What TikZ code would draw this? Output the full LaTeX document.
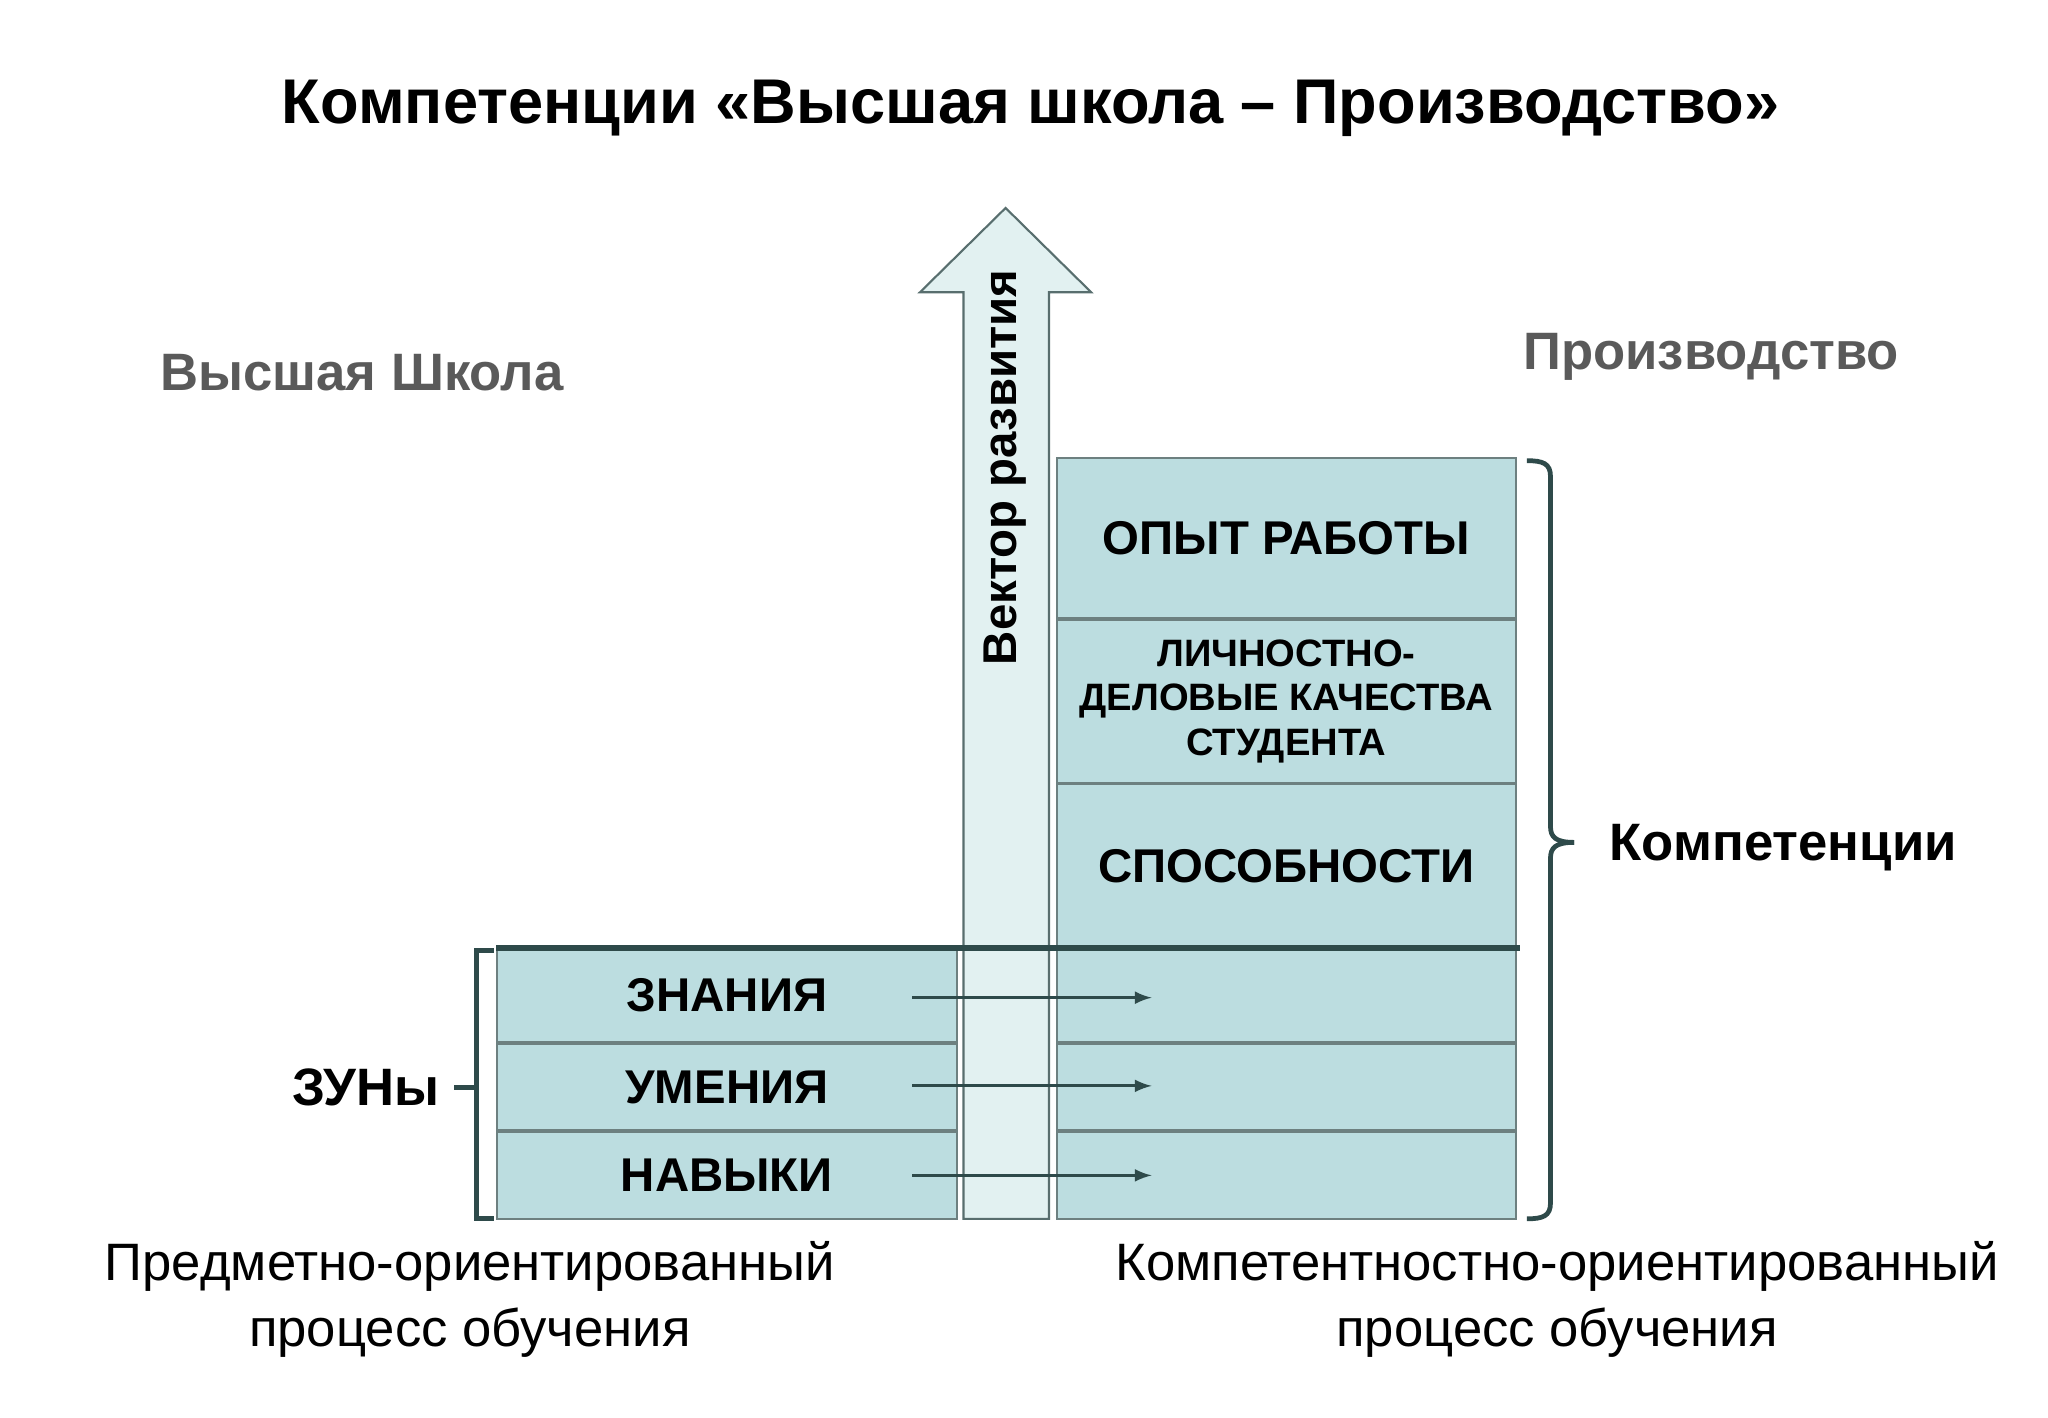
\documentclass[tikz,border=0pt]{standalone}
\usepackage{fontspec}
\setmainfont{Liberation Sans}
\definecolor{boxc}{HTML}{BCDDE0}
\definecolor{shaftc}{HTML}{E2F1F1}
\definecolor{edgec}{HTML}{2E4A4A}
\definecolor{greyt}{HTML}{5A5A5A}
\tikzset{
 cell/.style={draw=edgec!70, fill=boxc, line width=0.8pt, inner sep=0pt},
 lbl/.style={font=\fontsize{18}{21}\selectfont\bfseries},
 flow/.style={-latex, line width=1.2pt, draw=edgec},
 brk/.style={draw=edgec, line width=1.8pt},
}
\begin{document}
\begin{tikzpicture}[x=0.5pt,y=-0.5pt]
\useasboundingbox (0,0) rectangle (1556,1077);
\node (title) at (783,82) {\fontsize{24}{28}\selectfont\bfseries Компетенции «Высшая школа – Производство»};
\node[text=greyt] (vs) at (275,283) {\fontsize{20}{24}\selectfont\bfseries Высшая Школа};
\node[text=greyt] (pr) at (1300,271) {\fontsize{20}{24}\selectfont\bfseries Производство};
% arrow
\draw[draw=edgec!80, fill=shaftc, line width=0.8pt] (732,926) -- (732,222) -- (699,222) -- (764,158) -- (829,222) -- (797,222) -- (797,926) -- cycle;
\node[rotate=90] (vec) at (764,355) {\fontsize{18}{22}\selectfont\bfseries Вектор развития};
% right column
\node[cell, minimum width=174.5pt, minimum height=61pt, anchor=north west, lbl] (op) at (802,347) {ОПЫТ РАБОТЫ};
\node[cell, minimum width=174.5pt, minimum height=62pt, anchor=north west, align=center, font=\fontsize{14.5}{17}\selectfont\bfseries] (li) at (802,470) {ЛИЧНОСТНО-\\ДЕЛОВЫЕ КАЧЕСТВА\\СТУДЕНТА};
\node[cell, minimum width=174.5pt, minimum height=62pt, anchor=north west, lbl] (sp) at (802,595) {СПОСОБНОСТИ};
\node[cell, minimum width=174.5pt, minimum height=35.5pt, anchor=north west] (r1) at (802,720) {};
\node[cell, minimum width=174.5pt, minimum height=33pt, anchor=north west] (r2) at (802,792) {};
\node[cell, minimum width=174.5pt, minimum height=33pt, anchor=north west] (r3) at (802,859) {};
% left column
\node[cell, minimum width=174.5pt, minimum height=35.5pt, anchor=north west, lbl] (zn) at (377,720) {ЗНАНИЯ};
\node[cell, minimum width=174.5pt, minimum height=33pt, anchor=north west, lbl] (um) at (377,792) {УМЕНИЯ};
\node[cell, minimum width=174.5pt, minimum height=33pt, anchor=north west, lbl] (na) at (377,859) {НАВЫКИ};
% thick line
\coordinate (tl) at (377,720); \coordinate (tr) at (1155,720);
\draw[edgec, line width=2.2pt] (tl) -- (tr);
% flows
\coordinate (a1) at (693,758); \coordinate (b1) at (875,758);
\coordinate (a2) at (693,825); \coordinate (b2) at (875,825);
\coordinate (a3) at (693,893); \coordinate (b3) at (875,893);
\draw[flow] (a1) -- (b1); \draw[flow] (a2) -- (b2); \draw[flow] (a3) -- (b3);
% left bracket
\coordinate (lb1) at (375,722); \coordinate (lb2) at (375,926);
\draw[brk] (lb1) -- (362,722) -- (362,926) -- (lb2);
\draw[brk] (362,826) -- (345,826);
\node (zuny) at (278,826) {\fontsize{20}{24}\selectfont\bfseries ЗУНы};
% right brace
\coordinate (rb1) at (1160,350); \coordinate (rb2) at (1160,926);
\draw[brk] (rb1) .. controls (1172,350) and (1178,352) .. (1178,362) -- (1178,628) .. controls (1178,636) and (1182,640) .. (1196,640);
\draw[brk] (rb2) .. controls (1172,926) and (1178,924) .. (1178,914) -- (1178,652) .. controls (1178,644) and (1182,640) .. (1196,640);
\node[anchor=west] (komp) at (1216,644) {\fontsize{20}{24}\selectfont\bfseries Компетенции};
% bottom texts
\node[align=center, font=\fontsize{20}{25}\selectfont] (bl) at (357,987) {Предметно-ориентированный\\процесс обучения};
\node[align=center, font=\fontsize{20}{25}\selectfont] (br) at (1183,987) {Компетентностно-ориентированный\\процесс обучения};
\end{tikzpicture}
\end{document}
